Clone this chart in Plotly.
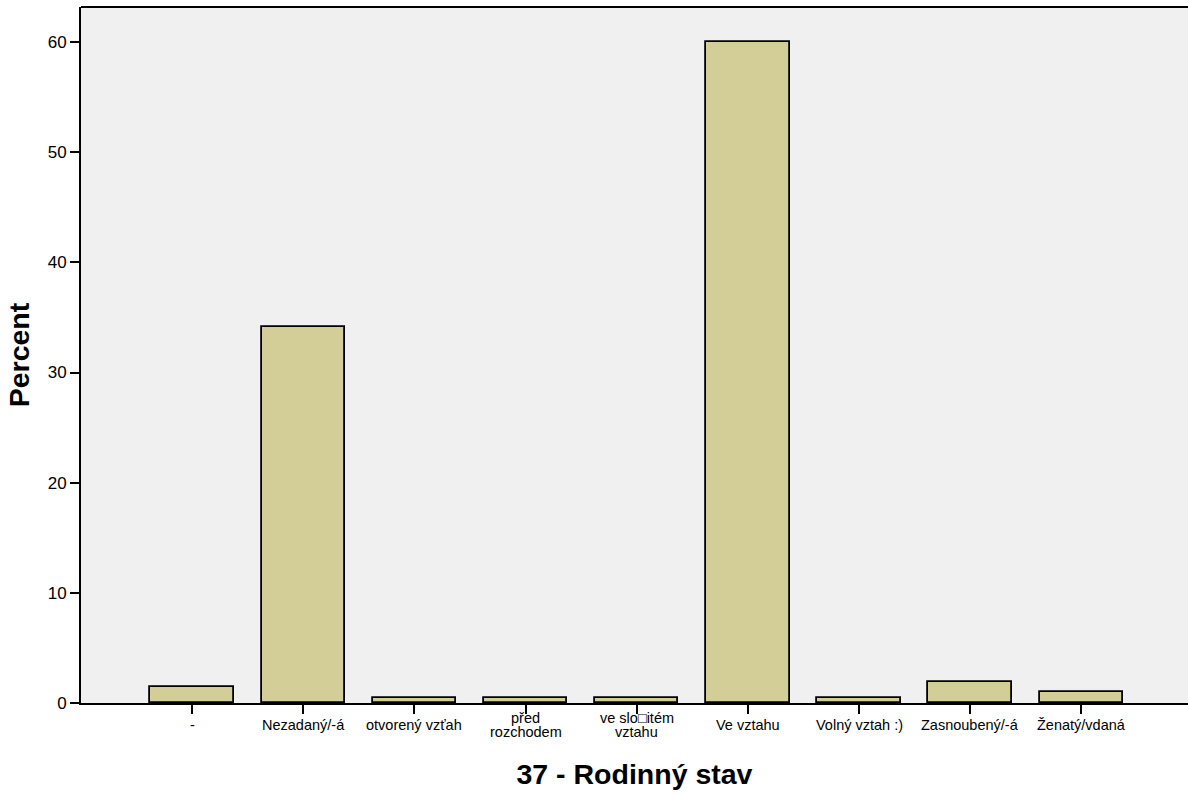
import plotly.graph_objects as go

categories = ["-", "Nezadaný/-á", "otvorený vzťah", "před<br>rozchodem",
              "ve slo\u25a1itém<br>vztahu", "Ve vztahu", "Volný vztah :)",
              "Zasnoubený/-á", "Ženatý/vdaná"]
percent = [1.46, 34.1, 0.49, 0.49, 0.49, 60.0, 0.49, 1.94, 0.97]
y_ticks = [0, 10, 20, 30, 40, 50, 60]

xpos = list(range(len(categories)))

fig = go.Figure()
fig.add_trace(go.Bar(
    x=xpos, y=percent, width=0.75,
    marker=dict(color="#D3CE98", line=dict(color="black", width=1.8)),
))

# category labels as annotations (tighter line spacing, vertically centred)
annotations = []
for xi, cat in zip(xpos, categories):
    lines = cat.split("<br>")
    n = len(lines)
    for i, line in enumerate(lines):
        annotations.append(dict(
            x=xi, xref="x", y=0, yref="paper", text=line, showarrow=False,
            xanchor="center", yanchor="middle",
            yshift=-22 - (i - (n - 1) / 2) * 14,
            font=dict(size=14.5, color="black"),
        ))

fig.update_layout(
    width=1188, height=794,
    margin=dict(l=81, r=0, t=7, b=91),
    paper_bgcolor="white", plot_bgcolor="#F0F0F0",
    font=dict(family="Liberation Sans, Arial, sans-serif", color="black"),
    showlegend=False, bargap=0,
    annotations=annotations,
    shapes=[dict(type="line", xref="paper", yref="paper", x0=0, x1=1, y0=1, y1=1,
                 layer="above", line=dict(color="black", width=2))],
)
fig.update_xaxes(
    range=[-1, 8.96], tickmode="array", tickvals=xpos,
    ticktext=[""] * len(categories), ticks="outside", ticklen=9, tickwidth=2,
    tickcolor="black", showline=True, linecolor="black", linewidth=2,
    showgrid=False, zeroline=False, tickfont=dict(size=13),
    title=dict(text="<b>37 - Rodinný stav</b>", font=dict(size=28.5), standoff=48),
)
fig.update_yaxes(
    range=[0, 63.18], tickvals=y_ticks, ticks="outside", ticklen=9, tickwidth=2,
    tickcolor="black", showline=True, linecolor="black", linewidth=2,
    showgrid=False, zeroline=False, tickfont=dict(size=17),
    title=dict(text="<b>Percent</b>", font=dict(size=28.5), standoff=10),
)
fig.write_html("out.html", config={"displayModeBar": False},
               post_script="document.body.style.margin='0';document.body.style.overflow='hidden';")
